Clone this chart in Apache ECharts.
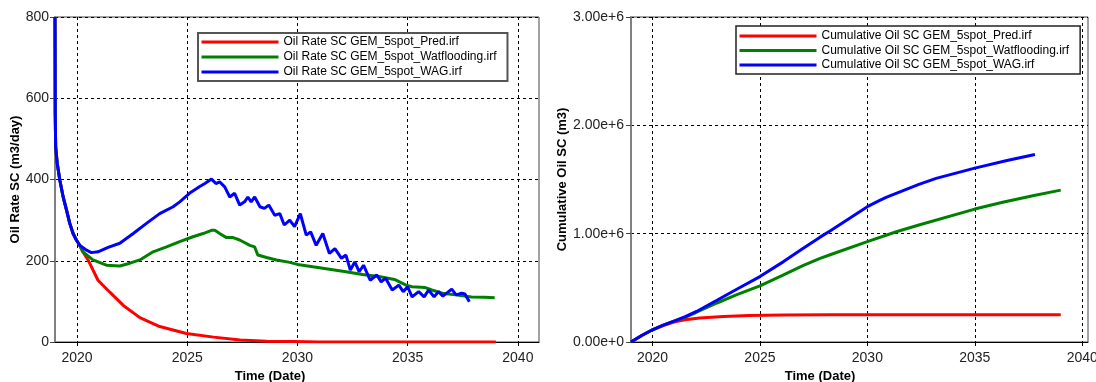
<!DOCTYPE html>
<html><head><meta charset="utf-8">
<script src="https://cdn.jsdelivr.net/npm/echarts@6/dist/echarts.min.js"></script>
<style>html,body{margin:0;padding:0;background:#fff}#c{width:1096px;height:382px}</style>
</head><body><div id="c"></div>
<script>
// ---- tick labels ----
const xTicks = [2020, 2025, 2030, 2035, 2040];
const rateAxisMax = 800, rateAxisStep = 200;
const cumAxisMax = 3000000, cumAxisStep = 1000000;

// ---- series names ----
const rateNames = ['Oil Rate SC GEM_5spot_Pred.irf', 'Oil Rate SC GEM_5spot_Watflooding.irf', 'Oil Rate SC GEM_5spot_WAG.irf'];
const cumNames = ['Cumulative Oil SC GEM_5spot_Pred.irf', 'Cumulative Oil SC GEM_5spot_Watflooding.irf', 'Cumulative Oil SC GEM_5spot_WAG.irf'];

// ---- Oil rate (m3/day) ----
const predRateYears = [2019.0, 2019.01, 2019.03, 2019.1, 2019.22, 2019.37, 2019.52, 2019.67, 2019.82, 2019.97, 2020.12, 2020.22, 2020.5, 2020.95, 2021.5, 2022.1, 2022.85, 2023.75, 2024.96, 2026.2, 2027.4, 2028.6, 2029.8, 2031.0, 2035.0, 2039.0];
const predRateValues = [800, 565, 480, 440, 398, 357, 325, 292, 267, 251, 238, 226, 202, 152, 122, 90, 60, 38, 21, 12, 5, 2, 1, 0, 0, 0];

const wfRateYears = [2019.0, 2019.01, 2019.03, 2019.1, 2019.22, 2019.37, 2019.52, 2019.67, 2019.82, 2019.97, 2020.12, 2020.27, 2020.72, 2021.33, 2021.94, 2022.4, 2022.85, 2023.45, 2024.06, 2024.66, 2025.26, 2025.72, 2026.1, 2026.25, 2026.47, 2026.78, 2027.08, 2027.38, 2027.84, 2028.06, 2028.2, 2028.6, 2029.05, 2029.65, 2030.0, 2030.7, 2031.45, 2032.2, 2032.95, 2033.7, 2034.4, 2034.93, 2035.2, 2035.8, 2036.1, 2036.57, 2037.17, 2037.9, 2038.5, 2038.95];
const wfRateValues = [800, 565, 480, 440, 398, 357, 325, 292, 267, 251, 238, 222, 202, 189, 187, 194, 202, 222, 234, 247, 259, 267, 275, 275, 267, 257, 257, 251, 238, 234, 214, 208, 202, 196, 191, 185, 179, 173, 166, 161, 154, 140, 136, 134, 128, 120, 116, 111, 110, 109];

const wagRateYears = [2019.0, 2019.01, 2019.03, 2019.1, 2019.22, 2019.37, 2019.52, 2019.67, 2019.82, 2019.97, 2020.12, 2020.43, 2020.65, 2020.95, 2021.41, 2021.94, 2022.55, 2023.15, 2023.75, 2024.36, 2024.66, 2025.1, 2025.55, 2025.8, 2026.1, 2026.3, 2026.47, 2026.7, 2026.93, 2027.15, 2027.38, 2027.6, 2027.75, 2027.9, 2028.06, 2028.3, 2028.5, 2028.7, 2028.97, 2029.2, 2029.4, 2029.65, 2029.87, 2030.13, 2030.4, 2030.6, 2030.85, 2031.15, 2031.45, 2031.7, 2032.0, 2032.2, 2032.4, 2032.6, 2032.8, 2033.0, 2033.3, 2033.6, 2033.8, 2034.0, 2034.3, 2034.6, 2034.8, 2035.0, 2035.2, 2035.5, 2035.75, 2035.95, 2036.2, 2036.4, 2036.6, 2037.0, 2037.2, 2037.45, 2037.6, 2037.8];
const wagRateValues = [800, 565, 480, 440, 398, 357, 325, 292, 267, 251, 238, 226, 220, 222, 233, 243, 267, 292, 316, 333, 345, 366, 382, 390, 401, 390, 394, 382, 357, 366, 337, 345, 357, 345, 357, 333, 329, 337, 312, 316, 288, 300, 284, 316, 263, 271, 238, 267, 218, 230, 206, 214, 177, 197, 173, 189, 152, 165, 148, 157, 128, 140, 124, 136, 111, 124, 111, 128, 111, 124, 113, 130, 116, 120, 118, 99];

// ---- Cumulative oil (m3) ----
const predCumYears = [2019.0, 2019.5, 2020.0, 2020.5, 2021.0, 2021.5, 2022.2, 2023.3, 2024.5, 2026.1, 2028.3, 2032.0, 2039.0];
const predCumValues = [0, 60000, 113000, 152000, 185000, 205000, 222000, 236000, 245000, 250000, 252000, 252000, 252000];

const wfCumYears = [2019.0, 2019.5, 2020.0, 2020.5, 2021.0, 2021.5, 2022.0, 2023.0, 2023.9, 2025.0, 2026.1, 2027.0, 2027.8, 2028.3, 2030.0, 2031.35, 2032.4, 2035.0, 2036.3, 2037.7, 2039.0];
const wfCumValues = [0, 60000, 113000, 155000, 192000, 228000, 270000, 360000, 435000, 518000, 620000, 705000, 772000, 808000, 926000, 1018000, 1080000, 1227000, 1290000, 1350000, 1402000];

const wagCumYears = [2019.0, 2019.5, 2020.0, 2020.5, 2021.0, 2021.5, 2022.05, 2023.0, 2023.9, 2025.0, 2026.1, 2027.0, 2027.8, 2028.3, 2030.0, 2030.6, 2030.9, 2032.4, 2033.2, 2035.0, 2036.5, 2037.8];
const wagCumValues = [0, 60000, 113000, 155000, 192000, 232000, 282000, 385000, 485000, 604000, 742000, 862000, 968000, 1030000, 1249000, 1310000, 1338000, 1455000, 1510000, 1605000, 1675000, 1731000];

const colors = ['#ff0000', '#008000', '#0000ff'];
const FONT = 'Liberation Sans, Arial, sans-serif';

function zip(xs, ys) { return xs.map((x, i) => [x, ys[i]]); }

function xAxisCfg(gridIndex, max) {
  return {
    type: 'value', gridIndex: gridIndex, min: 2019, max: max,
    axisLine: { show: true, onZero: false, lineStyle: { color: '#000', width: 1 } },
    axisTick: { show: true, length: 4, inside: false, customValues: xTicks, lineStyle: { color: '#000' } },
    axisLabel: { show: true, customValues: xTicks, margin: 9, color: '#222', fontSize: 14, fontFamily: FONT, formatter: v => String(v) },
    splitLine: { show: true, lineStyle: { color: '#000', width: 1, type: [3, 3] } }
  };
}
function yAxisCfg(gridIndex, max, step, name, gap, margin, fmt) {
  return {
    type: 'value', gridIndex: gridIndex, min: 0, max: max, interval: step,
    name: name, nameLocation: 'middle', nameGap: gap, nameRotate: 90,
    nameTextStyle: { fontWeight: 'bold', fontSize: 13, color: '#000', fontFamily: FONT },
    axisLine: { show: true, lineStyle: { color: '#808080', width: 2 } },
    axisTick: { show: true, length: 5, lineStyle: { color: '#444' } },
    axisLabel: { margin: margin, color: '#222', fontSize: 14, fontFamily: FONT, formatter: fmt },
    splitLine: { show: true, lineStyle: { color: '#000', width: 1, type: [3, 3] } }
  };
}
function lineSeries(name, data, ci, xi) {
  return {
    name: name, type: 'line', xAxisIndex: xi, yAxisIndex: xi, data: data,
    showSymbol: false, symbol: 'none', animation: false,
    lineStyle: { color: colors[ci], width: 3 }, itemStyle: { color: colors[ci] }
  };
}
function legendCfg(names, left, top, pad, gap, borderColor, borderWidth) {
  return {
    data: names, orient: 'vertical', left: left, top: top, padding: pad, itemGap: gap,
    itemWidth: 77, itemHeight: 12, borderColor: borderColor, borderWidth: borderWidth, backgroundColor: '#fff',
    itemStyle: { opacity: 0 }, lineStyle: { width: 3 },
    textStyle: { fontSize: 12, color: '#000', fontFamily: FONT }, selectedMode: false
  };
}

const chart = echarts.init(document.getElementById('c'), null, { renderer: 'canvas' });
chart.setOption({
  backgroundColor: '#fff',
  animation: false,
  textStyle: { fontFamily: FONT },
  grid: [
    { left: 55, top: 17, width: 484, height: 325, show: true, borderColor: '#444', borderWidth: 1, backgroundColor: 'transparent', outerBoundsMode: 'none', containLabel: false },
    { left: 631, top: 17, width: 457, height: 325, show: true, borderColor: '#444', borderWidth: 1, backgroundColor: 'transparent', outerBoundsMode: 'none', containLabel: false }
  ],
  xAxis: [xAxisCfg(0, 2040.96), xAxisCfg(1, 2040.27)],
  yAxis: [
    yAxisCfg(0, rateAxisMax, rateAxisStep, 'Oil Rate SC (m3/day)', 32, 6, v => String(v)),
    yAxisCfg(1, cumAxisMax, cumAxisStep, 'Cumulative Oil SC (m3)', 58, 7, v => v.toExponential(2))
  ],
  legend: [
    legendCfg(rateNames, 198, 33, [3, 11, 3, 2], 3, '#555', 2),
    legendCfg(cumNames, 736, 26, [4, 11, 3, 2], 2.5, '#222', 1.5)
  ],
  graphic: [
    { type: 'text', x: 270, y: 376, style: { text: 'Time (Date)', font: 'bold 13px ' + FONT, fill: '#000', align: 'center', verticalAlign: 'middle' } },
    { type: 'text', x: 820, y: 376, style: { text: 'Time (Date)', font: 'bold 13px ' + FONT, fill: '#000', align: 'center', verticalAlign: 'middle' } }
  ],
  series: [
    lineSeries(rateNames[0], zip(predRateYears, predRateValues), 0, 0),
    lineSeries(rateNames[1], zip(wfRateYears, wfRateValues), 1, 0),
    lineSeries(rateNames[2], zip(wagRateYears, wagRateValues), 2, 0),
    lineSeries(cumNames[0], zip(predCumYears, predCumValues), 0, 1),
    lineSeries(cumNames[1], zip(wfCumYears, wfCumValues), 1, 1),
    lineSeries(cumNames[2], zip(wagCumYears, wagCumValues), 2, 1)
  ]
});
</script>
</body></html>
